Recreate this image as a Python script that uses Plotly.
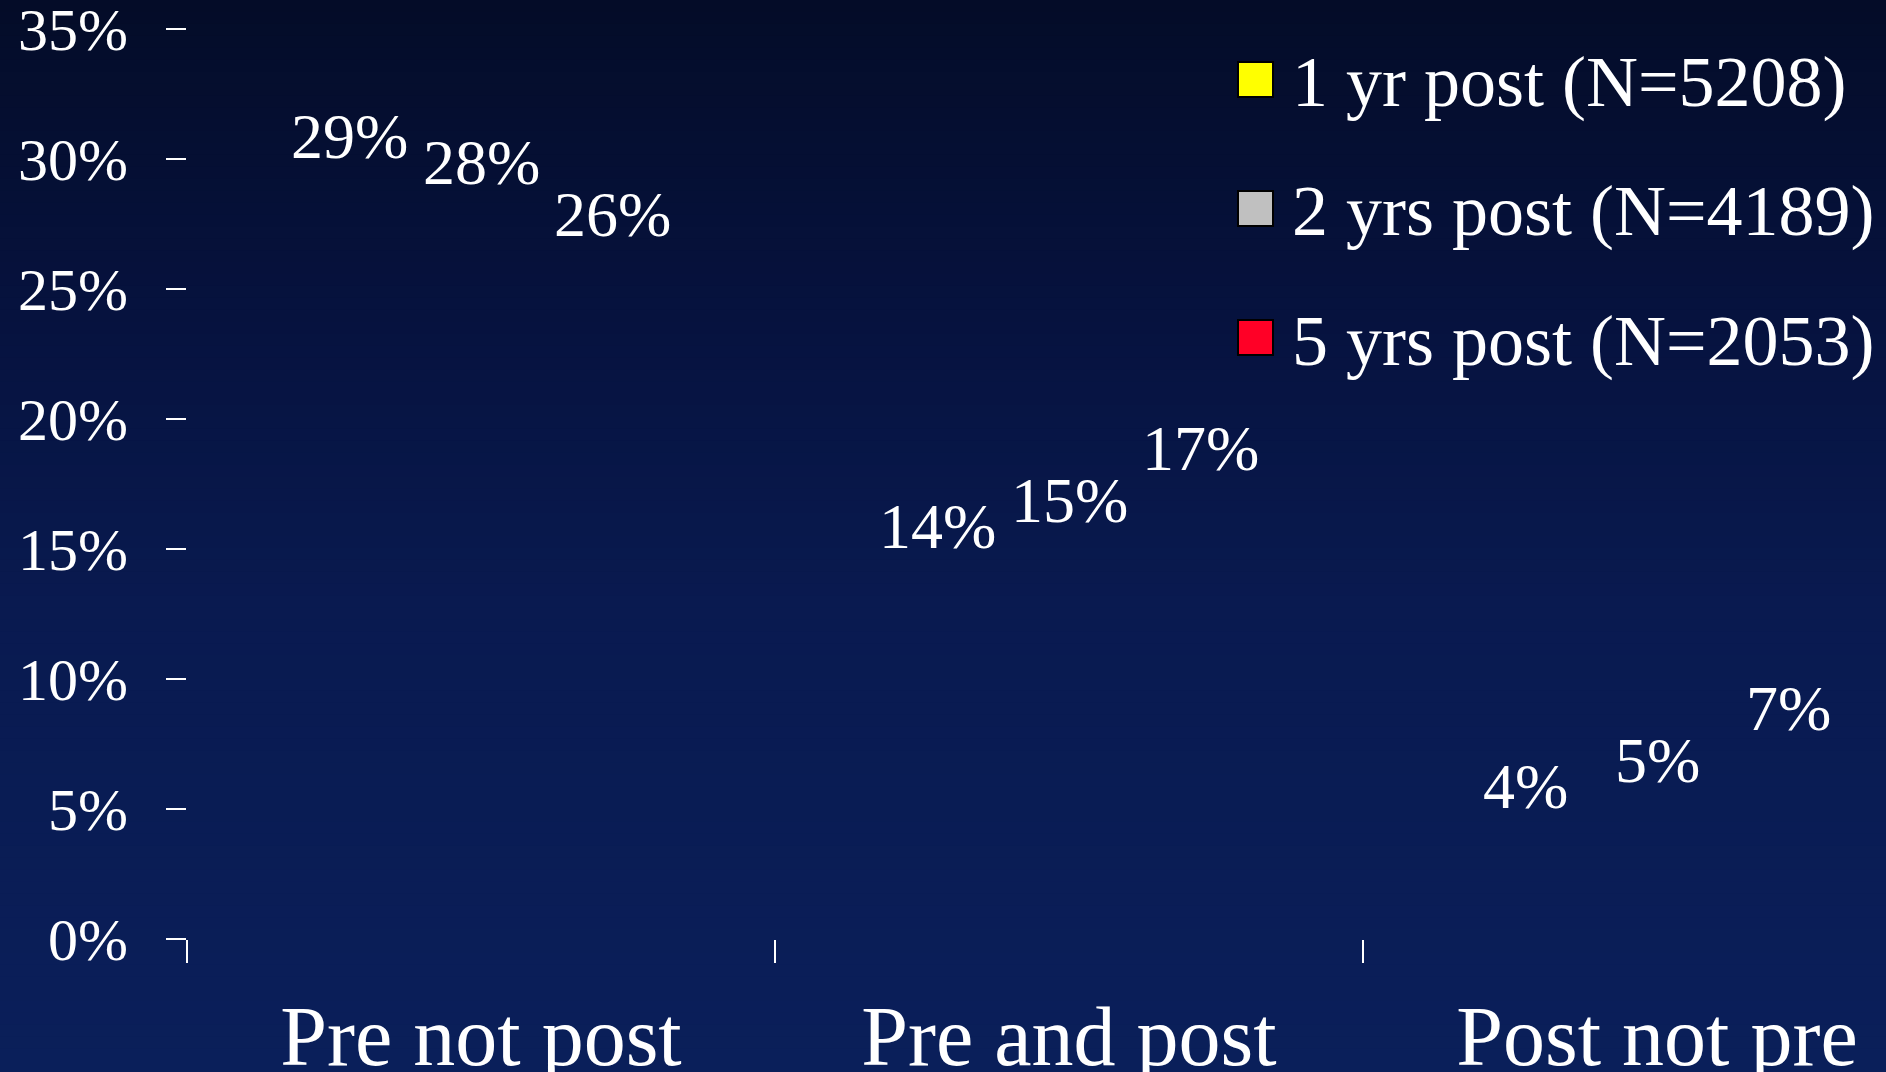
import plotly.graph_objects as go

# ---- data ----
categories = ["Pre not post", "Pre and post", "Post not pre"]
series_names = ["1 yr post (N=5208)", "2 yrs post (N=4189)", "5 yrs post (N=2053)"]
one_yr = [29, 14, 4]
two_yrs = [28, 15, 5]
five_yrs = [26, 17, 7]
series_values = [one_yr, two_yrs, five_yrs]
series_colors = ["#ffff00", "#c0c0c0", "#ff0026"]
y_tickvals = [0, 5, 10, 15, 20, 25, 30, 35]
y_ticktext = [f"{v}%" for v in y_tickvals]

# ---- layout geometry (pixels) ----
W, H = 1886, 1072
ML, MR, MT, MB = 187, 0, 28, 133
PW, PH = W - ML - MR, H - MT - MB
CAT_PX = 588.0
x_max = -0.5 + PW / CAT_PX
BARGAP = 0.33
bar_w = (1 - BARGAP) / 3

def px_x(px):
    return (px - ML) / PW

def px_y(py):
    return (H - MB - py) / PH

FONT = "Liberation Serif, Times New Roman, serif"

fig = go.Figure()
for name, vals, col in zip(series_names, series_values, series_colors):
    fig.add_trace(go.Bar(
        x=categories, y=vals, name=name,
        marker=dict(color="rgba(0,0,0,0)", line=dict(width=0)),
        showlegend=False, hoverinfo="x+y+name",
    ))

# value labels above the (invisible) bars
annotations = []
for j, vals in enumerate(series_values):
    for i, v in enumerate(vals):
        annotations.append(dict(
            x=i + (j - 1) * bar_w, y=v, xref="x", yref="y",
            text=f"{v}%", showarrow=False, xanchor="center", yanchor="bottom",
            yshift=11, font=dict(family=FONT, size=64, color="white"),
        ))

# custom legend (large swatches)
shapes = []
leg_swatch_left, leg_swatch_size = 1238, 35
leg_first_top, leg_step = 62, 129
leg_text_left = 1290
for k, (name, col) in enumerate(zip(series_names, series_colors)):
    top = leg_first_top + k * leg_step
    shapes.append(dict(
        type="rect", xref="paper", yref="paper", layer="above",
        x0=px_x(leg_swatch_left), x1=px_x(leg_swatch_left + leg_swatch_size),
        y0=px_y(top + leg_swatch_size), y1=px_y(top),
        fillcolor=col, line=dict(color="black", width=2),
    ))
    annotations.append(dict(
        x=px_x(leg_text_left), y=px_y(top + leg_swatch_size / 2 + 3),
        xref="paper", yref="paper", text=name, showarrow=False,
        xanchor="left", yanchor="middle",
        font=dict(family=FONT, size=72, color="white"),
    ))

# vertical gradient background made of bands
stops = [(0, (4, 12, 40)), (310, (6, 18, 62)), (610, (9, 26, 80)), (1072, (10, 31, 90))]

def grad(py):
    for (a, ca), (b, cb) in zip(stops[:-1], stops[1:]):
        if a <= py <= b:
            t = (py - a) / (b - a)
            return tuple(round(ca[c] + (cb[c] - ca[c]) * t) for c in range(3))
    return stops[-1][1]

N = 90
for n in range(N):
    y0 = H * n / N
    y1 = H * (n + 1) / N + 1
    r, g, b = grad((y0 + y1) / 2)
    shapes.append(dict(
        type="rect", xref="paper", yref="paper", layer="below",
        x0=px_x(-2), x1=px_x(W + 2), y0=px_y(y1), y1=px_y(y0),
        fillcolor=f"rgb({r},{g},{b})", line=dict(width=0),
    ))

fig.update_layout(
    width=W, height=H,
    margin=dict(l=ML, r=MR, t=MT, b=MB, pad=0),
    template="none",
    paper_bgcolor="rgb(7,20,66)",
    plot_bgcolor="rgba(0,0,0,0)",
    barmode="group", bargap=BARGAP, bargroupgap=0,
    showlegend=False,
    shapes=shapes, annotations=annotations,
    font=dict(family=FONT, color="white"),
)
fig.update_xaxes(
    type="category", range=[-0.5, x_max], automargin=False,
    showline=False, showgrid=False, zeroline=False,
    ticks="outside", tickson="boundaries", ticklen=23, tickwidth=2, tickcolor="white",
    tickfont=dict(family=FONT, size=84, color="white"),
    ticklabelstandoff=41, ticklabeloverflow="allow",
)
fig.update_yaxes(
    range=[0, 35.02], tickmode="array", tickvals=y_tickvals, ticktext=y_ticktext,
    automargin=False,
    showline=False, showgrid=False, zeroline=False,
    ticks="outside", ticklen=20, tickwidth=2, tickcolor="white",
    tickfont=dict(family=FONT, size=60, color="white"),
    ticklabelstandoff=26, ticklabeloverflow="allow",
)

fig.write_html("out.html")
